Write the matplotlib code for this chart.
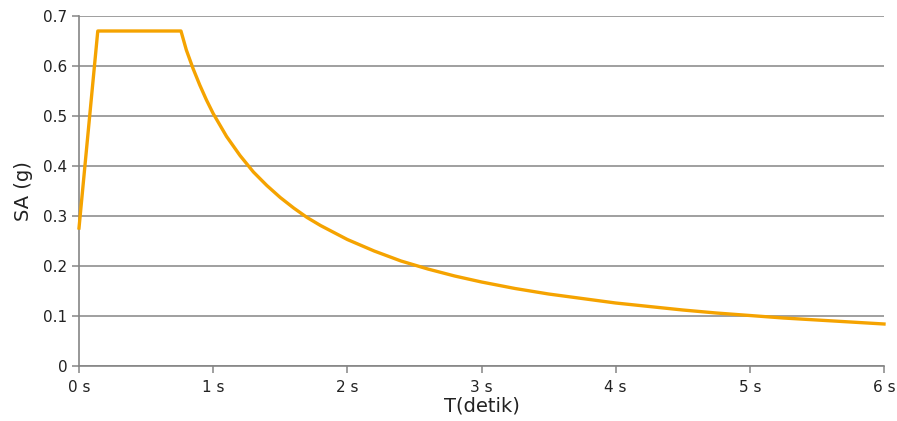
import matplotlib
matplotlib.use("Agg")
import matplotlib.pyplot as plt

# Values
T = [0.0, 0.14, 0.76, 0.80, 0.85, 0.90, 0.95, 1.00, 1.10, 1.20, 1.30, 1.40, 1.50,
     1.60, 1.70, 1.80, 2.00, 2.20, 2.40, 2.60, 2.80, 3.00, 3.25, 3.50, 3.75,
     4.00, 4.25, 4.50, 4.75, 5.00, 5.25, 5.50, 5.75, 6.00]
SA = [0.276, 0.670, 0.670, 0.632, 0.595, 0.562, 0.532, 0.505, 0.459, 0.421, 0.388,
      0.361, 0.337, 0.316, 0.297, 0.281, 0.253, 0.230, 0.210, 0.194, 0.180, 0.168,
      0.155, 0.144, 0.135, 0.126, 0.119, 0.112, 0.106, 0.101, 0.096, 0.092, 0.088,
      0.084]
xticks = [0, 1, 2, 3, 4, 5, 6]
xticklabels = ["0 s", "1 s", "2 s", "3 s", "4 s", "5 s", "6 s"]
yticks = [0, 0.1, 0.2, 0.3, 0.4, 0.5, 0.6, 0.7]
yticklabels = ["0", "0.1", "0.2", "0.3", "0.4", "0.5", "0.6", "0.7"]

fig = plt.figure(figsize=(8.97, 4.21), dpi=100)
ax = fig.add_axes([79/897, 55/421, (884-79)/897, (366-16)/421])

ax.plot(T, SA, color="#F5A300", lw=2.4, zorder=3, clip_on=False)

ax.set_xlim(0, 6)
ax.set_ylim(0, 0.7)
ax.set_xticks(xticks)
ax.set_xticklabels(xticklabels)
ax.set_yticks(yticks)
ax.set_yticklabels(yticklabels)

gridc = "#858585"
ax.yaxis.grid(True, color=gridc, lw=1.1)
ax.set_axisbelow(True)
for s in ["top", "right"]:
    ax.spines[s].set_visible(False)
for s in ["left", "bottom"]:
    ax.spines[s].set_color(gridc)
    ax.spines[s].set_linewidth(1.2)
ax.tick_params(axis="both", colors=gridc, length=5, width=1.1, labelsize=11,
               labelcolor="#222222")
ax.tick_params(axis="x", pad=5)

ax.set_xlabel("T(detik)", fontsize=14, color="#222222", labelpad=1)
ax.set_ylabel("SA (g)", fontsize=14, color="#222222", labelpad=7)

fig.savefig("out.png", dpi=100)
